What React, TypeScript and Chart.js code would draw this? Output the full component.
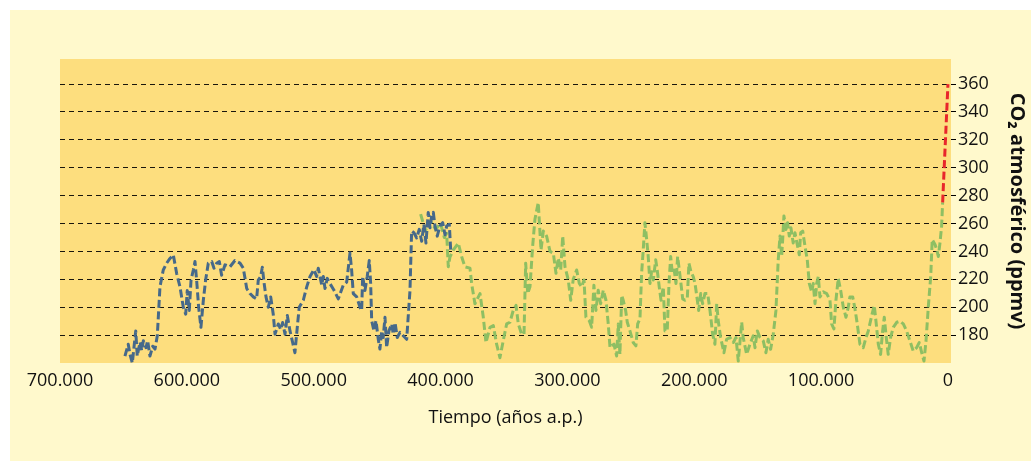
import React, { useEffect, useRef } from "react";
import { Chart, registerables } from "chart.js";

Chart.register(...registerables);

// Years before present (thousands of years) and CO2 (ppmv)
const blueYears = [
  648.8, 646.2, 644.8, 643.0, 641.7, 640.3, 639.1, 636.9, 635.6, 634.3,
  632.2, 630.9, 629.1, 626.9, 625.1, 623.3, 621.2, 618.6, 615.9, 613.3,
  610.7, 608.0, 605.4, 602.8, 600.9, 599.7, 598.1, 596.7, 594.9, 593.6,
  592.3, 590.7, 588.9, 587.0, 585.2, 583.1, 580.4, 578.6, 576.5, 574.4,
  572.6, 569.9, 566.0, 562.1, 558.1, 555.5, 552.8, 550.2, 547.6, 545.0,
  543.7, 541.8, 540.5, 539.2, 537.6, 535.8, 533.9, 531.9, 530.5, 527.9,
  526.0, 524.5, 522.6, 520.8, 518.7, 516.6, 514.8, 512.6, 511.4, 508.2,
  505.5, 502.9, 499.8, 497.7, 496.4, 493.7, 492.4, 491.1, 489.3, 487.2,
  484.0, 480.6, 476.7, 474.0, 471.4, 470.1, 468.8, 466.1, 463.5, 462.2,
  461.4, 459.6, 457.8, 456.2, 455.1, 454.3, 452.5, 450.9, 449.1, 447.8,
  446.4, 445.2, 443.8, 442.5, 440.7, 438.5, 437.3, 435.9, 434.1, 432.0,
  429.4, 426.7, 424.1, 422.8, 421.0, 418.8, 416.8, 414.9, 413.1, 411.5,
  409.7, 408.3, 407.0, 405.7, 404.4, 402.6, 400.5, 398.3, 396.5, 395.2,
  393.1, 392.0,
];
const bluePpm = [
  165, 173.5, 166, 160, 171, 183, 165, 175, 169, 176,
  171, 176, 165, 172, 170, 179.5, 214.6, 226.7, 231.6, 235,
  237.6, 224, 214.6, 200, 195, 212, 197.7, 219.5, 226.7, 232.8,
  219.5, 200, 185.6, 205, 219.5, 231.6, 232.8, 228, 231.6, 232.8,
  223, 230.4, 229, 233.5, 231.6, 228, 213.4, 209.8, 207.4, 206,
  219.5, 222, 228.7, 218, 207.4, 200, 207.4, 195, 180.7, 188,
  184, 189, 180.7, 194, 183, 174.7, 167.4, 189, 200, 205,
  214.6, 222, 227, 222, 228, 216, 222, 213.4, 220.7, 217,
  212.2, 206, 215.8, 218, 238.8, 226.7, 209.8, 207.4, 200, 197.7,
  222, 212, 222, 233.5, 217, 190.4, 183, 190.4, 177, 170,
  183, 178.3, 192.8, 171, 183, 188, 180.7, 189, 178.3, 182,
  179.5, 177, 212, 254.6, 253.4, 249.7, 255.8, 247.3, 259.4, 246,
  268, 257, 265.5, 268, 258.2, 251, 258.2, 260.6, 252, 258.2,
  259.4, 241,
];

const greenYears = [
  415.7, 412, 408, 404, 400, 397, 395.2, 393.9, 392.6, 390.0,
  386.0, 383.4, 380.8, 376.8, 375.5, 372.9, 368.9, 366.3, 364.2, 361.0,
  358.4, 355.8, 353.2, 350.6, 347.9, 345.3, 342.7, 340.5, 338.7, 336.1,
  334.2, 332.9, 331.3, 329.5, 327.4, 325.6, 323.0, 320.8, 319.0, 316.4,
  313.7, 311.1, 309.0, 307.2, 305.3, 303.7, 301.9, 299.3, 297.4, 295.4,
  292.7, 290.6, 288.8, 286.9, 285.4, 282.8, 280.9, 279.1, 277.5, 275.7,
  273.8, 271.7, 269.6, 267.8, 266.4, 265.1, 263.3, 261.2, 259.9, 258.6,
  257.2, 256.0, 254.1, 252.8, 250.7, 248.1, 246.0, 244.6, 242.8, 241.5,
  240.2, 238.9, 237.5, 236.3, 234.9, 233.6, 232.3, 230.4, 229.2, 227.6,
  226.2, 224.4, 223.1, 221.3, 219.9, 218.6, 217.3, 215.8, 214.4, 213.1,
  211.8, 210.5, 209.1, 207.3, 205.5, 204.2, 202.6, 200.8, 199.4, 198.1,
  196.5, 194.9, 193.4, 191.6, 189.4, 187.6, 185.5, 183.7, 182.3, 181.1,
  179.2, 176.6, 174.5, 171.8, 169.2, 167.1, 165.3, 162.6, 161.4, 158.7,
  156.1, 153.5, 152.1, 150.3, 148.2, 145.6, 143.5, 141.7, 139.8, 137.7,
  135.6, 133.8, 132.4, 131.1, 130.3, 129.3, 127.7, 126.4, 125.1, 123.8,
  122.0, 120.6, 118.8, 117.2, 116.1, 114.5, 112.7, 110.9, 109.3, 107.4,
  106.2, 104.8, 103.5, 102.2, 100.9, 98.3, 95.6, 93.0, 91.7, 89.9,
  88.3, 86.5, 84.6, 82.5, 80.4, 78.6, 77.3, 75.1, 73.3, 71.5,
  69.4, 66.8, 64.6, 62.8, 60.1, 58.1, 56.8, 54.9, 53.1, 51.5,
  50.2, 48.9, 47.1, 45.2, 43.1, 40.4, 37.8, 35.2, 32.6, 30.0,
  27.4, 24.7, 22.6, 20.7, 18.9, 17.3, 15.5, 13.6, 12.4, 10.2,
  8.9, 7.6, 6.3, 5.0, 4.2,
];
const greenPpm = [
  266.7, 255, 262, 256, 260, 250, 253, 229, 236, 241,
  246, 236.4, 229, 228, 217, 202.5, 209.8, 192.8, 174.7, 185.6,
  186.8, 173.5, 163.8, 175.9, 188, 189.2, 197.7, 201.3, 188, 180.7,
  180.7, 231.6, 209.8, 214.6, 243.7, 263, 275, 241, 254.6, 251,
  240, 238.8, 224.3, 235.2, 226.7, 251, 229, 219.5, 205, 220,
  226.7, 217, 214.6, 219.5, 192.8, 190.4, 185.6, 215.8, 197.7, 212.2,
  202.5, 212.2, 205, 188, 171, 172.3, 173.5, 165, 188, 166.2,
  208.6, 205, 197.7, 189.2, 183, 174.7, 172.3, 188, 191.6, 224.3,
  241.3, 260.6, 248.5, 236.4, 217, 225.5, 219.5, 234, 226.7, 214.6,
  205, 214.6, 183, 183, 217, 236.4, 224.3, 226.7, 217, 236.4,
  226.7, 217, 206, 205, 206, 231.6, 225.5, 222, 217, 208.6,
  197.7, 209.8, 202.5, 209.8, 209.8, 197.7, 180.7, 173.5, 202.5, 190.4,
  178.3, 167.4, 177, 178.3, 174.7, 178.3, 161.4, 189.2, 178.3, 166.2,
  173.5, 179.5, 171, 183, 178.3, 175.9, 167.4, 177, 169.8, 180.7,
  197.7, 234, 251, 236.4, 248.5, 265.5, 255.8, 260.6, 251, 257,
  246, 253.4, 245, 237.6, 253.4, 254.6, 243.7, 234, 217, 211,
  217, 202.5, 217, 222, 207.4, 211, 209.8, 205, 188, 184.4,
  205, 220.7, 212.2, 200, 192.8, 200, 207.4, 207.4, 198.9, 188,
  173.5, 171, 178.3, 183, 194, 201.3, 190.4, 173.5, 166.2, 183,
  192.8, 180.7, 166.2, 178.3, 185.6, 189.2, 190, 188, 183, 175.9,
  168.6, 171, 174.7, 167.4, 161.4, 175.9, 200, 222, 248.5, 245,
  241.3, 236.4, 246, 258.2, 275,
];

const redYears = [4.2, 0];
const redPpm = [275, 360];

const xTicks = [700, 600, 500, 400, 300, 200, 100, 0];
const yTicks = [180, 200, 220, 240, 260, 280, 300, 320, 340, 360];

const xTitle = "Tiempo (años a.p.)";
const yTitle = "CO₂ atmosférico (ppmv)";

const OUTER_BG = "#FFF9CC";
const PLOT_BG = "#FDDE7E";
const FONT = "'Open Sans', 'DejaVu Sans', sans-serif";

const pairs = (xs: number[], ys: number[]) => xs.map((x, i) => ({ x, y: ys[i] }));

const fmtTick = (v: number) => (v === 0 ? "0" : `${v}.000`);

export default function App() {
  const ref = useRef<HTMLCanvasElement | null>(null);

  useEffect(() => {
    if (!ref.current) return;
    const bgPlugin = {
      id: "bgPlugin",
      beforeDraw(chart: any) {
        const { ctx, chartArea, width, height } = chart;
        ctx.save();
        ctx.fillStyle = "#ffffff";
        ctx.fillRect(0, 0, width, height);
        ctx.fillStyle = OUTER_BG;
        ctx.fillRect(10, 10, width - 10, height - 12);
        ctx.fillStyle = PLOT_BG;
        ctx.fillRect(
          chartArea.left,
          chartArea.top,
          chartArea.right - chartArea.left,
          chartArea.bottom - chartArea.top
        );
        ctx.restore();
      },
    };

    const lineDs = (label: string, xs: number[], ys: number[], color: string) => ({
      label,
      data: pairs(xs, ys),
      borderColor: color,
      backgroundColor: color,
      borderWidth: 3,
      borderDash: [8, 3.5],
      borderJoinStyle: "round",
      pointRadius: 0,
      tension: 0,
      fill: false,
    });

    const chart = new Chart(ref.current, {
      type: "line",
      data: {
        datasets: [
          lineDs("blue", blueYears, bluePpm, "#46698A"),
          lineDs("green", greenYears, greenPpm, "#8EBF63"),
          lineDs("red", redYears, redPpm, "#E8262B"),
        ],
      },
      options: {
        animation: false,
        responsive: false,
        devicePixelRatio: 1,
        layout: { padding: { left: 60, top: 59, right: 0, bottom: 0 } },
        plugins: {
          legend: { display: false },
          tooltip: { enabled: false },
        },
        scales: {
          x: {
            type: "linear",
            reverse: true,
            min: -2.4,
            max: 700,
            afterBuildTicks: (s: any) => {
              s.ticks = xTicks.map((v) => ({ value: v }));
            },
            afterFit: (s: any) => {
              s.height = 100;
            },
            grid: { display: false, drawTicks: false },
            border: { display: false },
            ticks: {
              autoSkip: false,
              maxRotation: 0,
              padding: 7,
              color: "#111",
              font: { family: FONT, size: 18 },
              callback: (v: any) => fmtTick(Number(v)),
            },
            title: {
              display: true,
              text: xTitle,
              color: "#111",
              font: { family: FONT, size: 18 },
              padding: { top: 0, bottom: 34 },
            },
          },
          y: {
            type: "linear",
            position: "right",
            min: 160,
            max: 378,
            afterBuildTicks: (s: any) => {
              s.ticks = yTicks.map((v) => ({ value: v }));
            },
            afterFit: (s: any) => {
              s.width = 80;
            },
            grid: {
              color: "rgba(0,0,0,0.9)",
              lineWidth: 1,
              drawTicks: true,
              tickLength: 5,
              tickColor: "#000",
            },
            border: { display: false, dash: [5, 4] },
            ticks: {
              padding: 2,
              color: "#111",
              font: { family: FONT, size: 18 },
            },
            title: {
              display: true,
              text: yTitle,
              color: "#111",
              font: { family: FONT, size: 20, weight: "bold" },
              padding: { top: 2, bottom: 0 },
            },
          },
        },
      } as any,
      plugins: [bgPlugin],
    });
    return () => chart.destroy();
  }, []);

  return (
    <div style={{ position: "fixed", left: 0, top: 0, width: 1031, height: 463 }}>
      <canvas ref={ref} width={1031} height={463} style={{ width: 1031, height: 463, display: "block" }} />
    </div>
  );
}
